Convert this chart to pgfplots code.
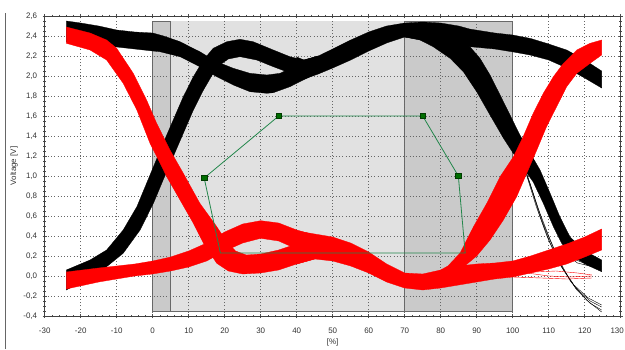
\documentclass[border=0pt]{standalone}
\usepackage{fontspec}
\setmainfont{Liberation Sans}
\usepackage{pgfplots}
\pgfplotsset{compat=1.18}
\definecolor{grayD}{RGB}{202,202,202}
\definecolor{grayL}{RGB}{225,225,225}
\definecolor{rectEdge}{RGB}{105,105,105}
\definecolor{maskLine}{RGB}{35,135,75}
\definecolor{maskFill}{RGB}{0,110,0}
\definecolor{maskDraw}{RGB}{0,60,0}
\begin{document}
\begin{tikzpicture}[trim left=-44.7bp, trim right=580.3bp]
\begin{axis}[
  set layers,
  at={(0,0)}, anchor=south west,
  scale only axis, width=576bp, height=300bp,
  xmin=-30, xmax=130, ymin=-0.4, ymax=2.6,
  xtick={-30,-20,-10,0,10,20,30,40,50,60,70,80,90,100,110,120,130},
  xticklabels={-30,-20,-10,0,10,20,30,40,50,60,70,80,90,100,110,120,{\hspace*{-7bp}130}},
  ytick={-0.4,-0.2,0,0.2,0.4,0.6,0.8,1.0,1.2,1.4,1.6,1.8,2.0,2.2,2.4,2.6},
  yticklabels={{-0,4},{-0,2},{0,0},{0,2},{0,4},{0,6},{0,8},{1,0},{1,2},{1,4},{1,6},{1,8},{2,0},{2,2},{2,4},{2,6}},
  minor x tick num=4, minor y tick num=3,
  tick align=center,
  major tick length=4bp, minor tick length=2.5bp,
  tick style={black!70, line width=0.5bp},
  axis line style={black!75, line width=0.8bp},
  grid=major,
  major grid style={dash pattern=on 1bp off 2.2bp, black!60, line width=0.55bp},
  ticklabel style={font=\fontsize{8}{9}\selectfont, text=black!80},
  xticklabel style={anchor=north, yshift=-6bp},
  yticklabel style={anchor=east, xshift=-2bp},
  xlabel={[\%]}, ylabel={Voltage [V]},
  every axis x label/.style={at={(axis description cs:0.5,-0.0867)}, anchor=center, font=\fontsize{8}{9}\selectfont, text=black!80},
  every axis y label/.style={at={(axis description cs:-0.0533,0.5)}, anchor=center, rotate=90, font=\fontsize{8}{9}\selectfont, text=black!80},
]
% gray window
\addplot[on layer=axis background, fill=grayD, draw=rectEdge, line width=0.8bp] coordinates {(0,-0.35) (100,-0.35) (100,2.55) (0,2.55)} -- cycle;
\addplot[on layer=axis background, fill=grayL, draw=none] coordinates {(5,-0.35) (70,-0.35) (70,2.55) (5,2.55)} -- cycle;
\addplot[on layer=axis background, draw=rectEdge, line width=0.8bp] coordinates {(5,-0.35) (5,2.55)};
\addplot[on layer=axis background, draw=rectEdge, line width=0.8bp] coordinates {(70,-0.35) (70,2.55)};

% ---------------- black traces ----------------
\addplot[fill=black, draw=black, line width=0.3bp] coordinates {
(-24,2.55) (-20,2.53) (-15,2.50) (-10,2.46) (-5,2.44) (0,2.43) (3,2.40) (7.6,2.343) (11,2.28) (13.1,2.243) (15.5,2.19) (17.8,2.143) (22.4,2.077) (27,2.027) (31.7,2.01) (35.4,2.027) (39.1,2.093) (42,2.15) (46,2.2)
(46,2.03) (41.8,1.96) (38.1,1.893) (33.5,1.833) (31.7,1.827) (27,1.843) (22.4,1.91) (17.8,1.993) (15.5,2.04) (13.1,2.093) (7.6,2.193) (2,2.243) (0,2.25) (-5,2.27) (-10,2.29) (-15,2.31) (-20,2.33) (-24,2.34)
} -- cycle;
\addplot[fill=black, draw=black, line width=0.3bp] coordinates {
(-24,0.06) (-17.4,0.16) (-12.8,0.26) (-8.2,0.46) (-4.4,0.693) (-1.7,0.927) (0.6,1.127) (2.9,1.327) (5.7,1.56) (8.5,1.793) (11.3,1.993) (14.1,2.16) (16.8,2.277) (20.6,2.343) (24.25,2.367) (27.9,2.343) (33.5,2.26) (38.1,2.193) (42,2.16) (46,2.2)
(46,2.03) (41,2.0) (37.2,2.043) (33.5,2.093) (28.9,2.16) (24.25,2.193) (21,2.17) (19,2.12) (16.8,2.027) (14.1,1.86) (11.3,1.66) (8.5,1.427) (5.7,1.193) (2.9,0.96) (0.2,0.727) (-3.5,0.46) (-8.2,0.227) (-12.8,0.093) (-17.4,-0.007) (-24,-0.14)
} -- cycle;
\addplot[fill=black, draw=black, line width=0.3bp] coordinates {
(40,2.19) (42,2.16) (46,2.2) (50,2.27) (55,2.36) (60,2.44) (65,2.5) (70,2.53) (75,2.54) (80,2.53) (85,2.5) (88,2.47) (95,2.43) (100,2.41) (105,2.375) (110,2.32) (115,2.26) (120,2.16) (124.7,2.05)
(124.7,1.88) (120,1.98) (115,2.08) (110,2.16) (104.8,2.21) (100.2,2.24) (95,2.27) (88.1,2.293) (80,2.33) (75,2.36) (70,2.39) (65,2.33) (60,2.25) (55,2.16) (50,2.08) (46,2.02) (42,1.97) (40,1.95)
} -- cycle;
\addplot[fill=black, draw=black, line width=0.3bp] coordinates {
(70,2.45) (85,2.40) (88.1,2.293) (90.9,2.177) (93.7,2.01) (96.5,1.81) (99.25,1.61) (102,1.41) (105,1.22) (107.6,1.06) (110.4,0.827) (113.1,0.593) (115.9,0.393) (119.6,0.26) (124.7,0.16)
(124.7,0.043) (120.6,0.11) (116.8,0.193) (113.6,0.327) (111.3,0.493) (108.5,0.727) (105.7,0.94) (101,1.18) (97.4,1.38) (93.7,1.61) (90,1.843) (86.3,2.043) (82.6,2.177) (77.9,2.293) (74.25,2.36) (70,2.39)
} -- cycle;
\addplot[black, line width=0.4bp] coordinates {(103,1.1) (104.8,0.927) (107.6,0.593) (110.4,0.327) (114.1,0.06) (117.8,-0.14) (121.5,-0.273) (124.7,-0.34)};
\addplot[black, line width=0.4bp] coordinates {(103.5,1.05) (106.5,0.7) (109.5,0.4) (113,0.12) (117,-0.09) (121,-0.22) (124.7,-0.29)};
\addplot[black, line width=0.4bp] coordinates {(104,1.0) (107,0.68) (110,0.4) (113.5,0.1) (117.5,-0.12) (121.5,-0.25) (124.7,-0.31)};
\addplot[black, line width=0.4bp] coordinates {(103,1.12) (105.5,0.85) (108.5,0.52) (112,0.22) (116,-0.05) (120.5,-0.24) (124.7,-0.36)};
\addplot[black, line width=0.4bp] coordinates {(113,0.3) (117,0.17) (121,0.11) (124.7,0.09)};
\addplot[black, line width=0.4bp] coordinates {(113.5,0.25) (118,0.13) (124.7,0.07)};

% ---------------- red traces ----------------
\addplot[fill=red, draw=red, line width=0.3bp] coordinates {
(-24,2.49) (-17.4,2.43) (-12.8,2.36) (-10,2.277) (-5.4,2.027) (-1.7,1.76) (1.1,1.527) (4.8,1.26) (8.5,1.027) (13.1,0.727) (17.8,0.493) (20.6,0.34) (23,0.25) (26,0.21) (30,0.22) (35,0.26) (40,0.32) (45,0.4)
(45,0.17) (40,0.12) (35,0.06) (30,0.03) (25,0.02) (21,0.05) (17.8,0.127) (14.1,0.327) (11.3,0.527) (7.6,0.76) (3.9,0.993) (1.6,1.16) (-0.75,1.327) (-4.4,1.66) (-8.2,1.927) (-12.8,2.16) (-17.4,2.26) (-24,2.327)
} -- cycle;
\addplot[fill=red, draw=red, line width=0.3bp] coordinates {
(-24,0.04) (-15,0.08) (-5,0.12) (0,0.15) (5,0.19) (10,0.25) (15,0.33) (20,0.44) (25,0.52) (30,0.553) (35,0.53) (40,0.46) (45,0.41)
(45,0.2) (40,0.27) (35,0.35) (30,0.377) (25,0.33) (20,0.25) (15,0.15) (10,0.09) (5,0.05) (0,0.02) (-5,0.0) (-15,-0.06) (-24,-0.13)
} -- cycle;
\addplot[fill=red, draw=red, line width=0.3bp] coordinates {
(40,0.45) (45,0.42) (50,0.39) (55,0.33) (60,0.24) (65,0.12) (70,0.03) (75,0.02) (80,0.06) (85,0.1) (90,0.12) (95,0.13) (100,0.15) (105,0.2) (110,0.26) (115,0.32) (120,0.39) (124.7,0.47)
(124.7,0.26) (120,0.19) (115,0.12) (110,0.07) (105,0.03) (100,-0.01) (95,-0.03) (90,-0.06) (85,-0.09) (80,-0.12) (75,-0.14) (70,-0.12) (65,-0.06) (60,0.03) (55,0.1) (50,0.15) (45,0.17) (40,0.12)
} -- cycle;
\addplot[fill=red, draw=red, line width=0.3bp] coordinates {
(78,0.02) (82,0.1) (85.4,0.23) (89.1,0.493) (92.8,0.727) (96.5,0.993) (100.2,1.193) (102.9,1.393) (105.7,1.627) (108.5,1.827) (111.3,1.993) (114.1,2.127) (117.8,2.26) (121.5,2.327) (124.7,2.36)
(124.7,2.21) (121.5,2.127) (117.8,2.027) (115,1.893) (112.2,1.693) (109.4,1.493) (106.7,1.26) (103.9,1.027) (101.1,0.793) (97.4,0.56) (93.7,0.36) (90,0.2) (86,0.08) (82,-0.02)
} -- cycle;
\addplot[red, line width=0.4bp] coordinates {(100,0.02) (106,0.04) (112,0.05) (118,0.03) (122,0.01)};
\addplot[red, line width=0.4bp] coordinates {(100,-0.01) (108,-0.02) (115,-0.03) (122,-0.02)};
\addplot[red, line width=0.4bp] coordinates {(104,0.03) (110,0.0) (116,-0.01) (122,0.0)};

% ---------------- mask ----------------
\addplot[maskLine, line width=0.8bp] coordinates {(14.3,0.98) (35,1.6) (75,1.6) (84.9,1.0) (86.8,0.23) (18.8,0.23)} -- cycle;
\addplot[only marks, mark=square*, mark size=2.7bp, mark options={fill=maskFill, draw=maskDraw, line width=0.4bp}] coordinates {(14.3,0.98) (35,1.6) (75,1.6) (84.9,1.0)};
\end{axis}
\draw[black!60, line width=0.8bp] (-39.4bp,-33bp) -- (-39.4bp,303bp);
\path (-44.7bp,-33bp) rectangle (580.3bp,316bp);
\end{tikzpicture}
\end{document}
